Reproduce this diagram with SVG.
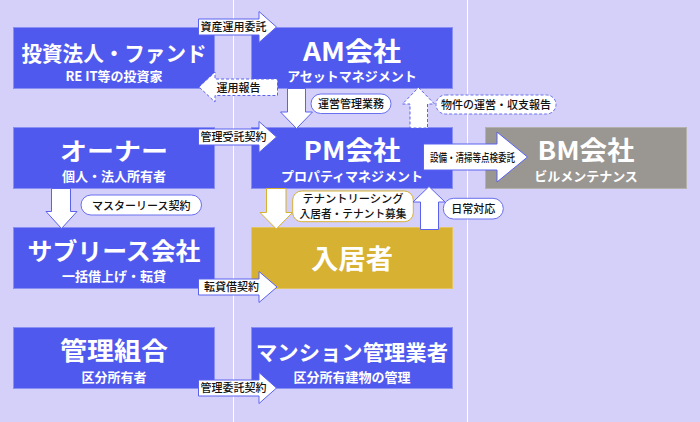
<svg xmlns="http://www.w3.org/2000/svg" width="700" height="422" viewBox="0 0 700 422">
<style>
.bg{fill:#d4d0f9}
.sep{stroke:#ffffff;stroke-width:1}
.node{fill:#5059ee;stroke:#8a8ff4;stroke-width:1}
.node.bm{fill:#9a9691;stroke:#b4b0ac}
.node.gold{fill:#d7b132;stroke:#e2c465}
text{font-family:"Noto Sans CJK JP","Noto Sans",sans-serif}
.title{fill:#ffffff;font-weight:700;text-anchor:middle}
.sub{fill:#ffffff;font-weight:700;font-size:13px;text-anchor:middle}
.lbl{fill:#111111;font-size:11px;font-weight:500}
.lblc{fill:#111111;font-size:11px;font-weight:500;text-anchor:middle}
.arr{fill:#ffffff;stroke:#5a62ee;stroke-width:1;stroke-linejoin:miter}
.arr.dash{stroke-dasharray:3 2}
.arr.gold{stroke:#d7b132}
.pill{fill:#ffffff;stroke:#6870ef;stroke-width:1}
.pill.dash{stroke-dasharray:3 2}
.pill.gold{stroke:#d7b132}
</style>
<rect class="bg" x="0" y="0" width="700" height="422"/>
<line class="sep" x1="233.5" y1="0" x2="233.5" y2="422"/>
<line class="sep" x1="467.5" y1="0" x2="467.5" y2="422"/>

<g id="fund">
<rect class="node" x="13.5" y="27.5" width="201" height="61"/>
<text class="title" x="114" y="60.5" font-size="21" textLength="185" lengthAdjust="spacingAndGlyphs">投資法人・ファンド</text>
<text class="sub" x="114" y="81">RE IT等の投資家</text>
</g>
<g id="am">
<rect class="node" x="251.5" y="27.5" width="201" height="61"/>
<text class="title" x="352" y="60.5" font-size="26" textLength="98" lengthAdjust="spacingAndGlyphs">AM会社</text>
<text class="sub" x="352" y="81">アセットマネジメント</text>
</g>
<g id="owner">
<rect class="node" x="13.5" y="127.5" width="201" height="61"/>
<text class="title" x="114" y="159.5" font-size="24" textLength="108" lengthAdjust="spacingAndGlyphs">オーナー</text>
<text class="sub" x="114" y="181">個人・法人所有者</text>
</g>
<g id="pm">
<rect class="node" x="251.5" y="127.5" width="201" height="61"/>
<text class="title" x="352" y="159.5" font-size="26" textLength="97" lengthAdjust="spacingAndGlyphs">PM会社</text>
<text class="sub" x="352" y="181">プロパティマネジメント</text>
</g>
<g id="bm">
<rect class="node bm" x="485.5" y="127.5" width="201" height="61"/>
<text class="title" x="586" y="159.5" font-size="26" textLength="97" lengthAdjust="spacingAndGlyphs">BM会社</text>
<text class="sub" x="586" y="181">ビルメンテナンス</text>
</g>
<g id="sublease">
<rect class="node" x="13.5" y="227.5" width="201" height="61"/>
<text class="title" x="114" y="259.5" font-size="24" textLength="173" lengthAdjust="spacingAndGlyphs">サブリース会社</text>
<text class="sub" x="114" y="281">一括借上げ・転貸</text>
</g>
<g id="tenant">
<rect class="node gold" x="251.5" y="227.5" width="201" height="61"/>
<text class="title" x="352" y="269" font-size="27" textLength="82" lengthAdjust="spacingAndGlyphs">入居者</text>
</g>
<g id="hoa">
<rect class="node" x="13.5" y="327.5" width="201" height="61"/>
<text class="title" x="114" y="360" font-size="25" textLength="108" lengthAdjust="spacingAndGlyphs">管理組合</text>
<text class="sub" x="114" y="381.5">区分所有者</text>
</g>
<g id="condo-mgr">
<rect class="node" x="251.5" y="327.5" width="201" height="61"/>
<text class="title" x="352" y="360" font-size="21" textLength="192" lengthAdjust="spacingAndGlyphs">マンション管理業者</text>
<text class="sub" x="352" y="381.5">区分所有建物の管理</text>
</g>

<g id="connectors">
<!-- 資産運用委託 -->
<path class="arr" d="M198.5,19 H259 V11.5 L276.5,27 L259,42.5 V35 H198.5 Z"/>
<text class="lbl" x="200.5" y="31">資産運用委託</text>
<!-- 運用報告 -->
<path class="arr dash" d="M199,87 L215,72 V79 H277.5 V95.5 H215 V102 Z"/>
<text class="lbl" x="216.5" y="91.5">運用報告</text>
<!-- AM -> PM -->
<path class="arr" d="M287.5,88.5 H305.5 V112 H312.5 L296.5,128.5 L280.5,112 H287.5 Z"/>
<rect class="pill" x="311" y="94" width="80" height="19.5" rx="9.75"/>
<text class="lblc" x="351" y="108">運営管理業務</text>
<!-- PM -> AM -->
<path class="arr dash" d="M418.5,87.5 L434.5,104 H427.5 V128 H410 V104 H402.5 Z"/>
<rect class="pill dash" x="436" y="95" width="120" height="19" rx="9.5"/>
<text class="lblc" x="496" y="108.5">物件の運営・収支報告</text>
<!-- 管理受託契約 -->
<path class="arr" d="M198.5,129 H259 V121.5 L276.5,137 L259,152.5 V145 H198.5 Z"/>
<text class="lbl" x="200.5" y="141">管理受託契約</text>
<!-- PM -> BM -->
<path class="arr" d="M423.5,144 H497 V132 L527.5,157 L497,182 V170 H423.5 Z"/>
<text class="lbl" x="430" y="161.5" font-size="10" textLength="85" lengthAdjust="spacingAndGlyphs">設備・清掃等点検委託</text>
<!-- Owner -> Sublease -->
<path class="arr" d="M51.5,188.5 H70.5 V211.5 H77 L61.5,228.5 L46,211.5 H51.5 Z"/>
<rect class="pill" x="81" y="195" width="120.5" height="20" rx="10"/>
<text class="lblc" x="141.3" y="209.5">マスターリース契約</text>
<!-- PM -> Tenant -->
<path class="arr gold" d="M266.5,188.5 H286 V212.5 H292.5 L276.3,229 L260,212.5 H266.5 Z"/>
<rect class="pill gold" x="292.7" y="191" width="120.6" height="30.7" rx="9"/>
<text class="lblc" x="353" y="203.2" font-size="10" textLength="101" lengthAdjust="spacingAndGlyphs">テナントリーシング</text>
<text class="lblc" x="353" y="217.8" font-size="10" textLength="107" lengthAdjust="spacingAndGlyphs">入居者・テナント募集</text>
<!-- Tenant -> PM -->
<path class="arr" d="M429,186.5 L445,202 H438.5 V229.5 H420.5 V202 H413 Z"/>
<rect class="pill" x="443.3" y="198.3" width="60" height="20.7" rx="10.3"/>
<text class="lblc" x="473.3" y="213">日常対応</text>
<!-- 転貸借契約 -->
<path class="arr" d="M198.5,279 H259 V271.5 L277,287 L259,302.5 V295 H198.5 Z"/>
<text class="lbl" x="204" y="291">転貸借契約</text>
<!-- 管理委託契約 -->
<path class="arr" d="M198.5,380 H259 V372.5 L276.5,388 L259,403.5 V396 H198.5 Z"/>
<text class="lbl" x="200.5" y="392">管理委託契約</text>
</g>
</svg>
